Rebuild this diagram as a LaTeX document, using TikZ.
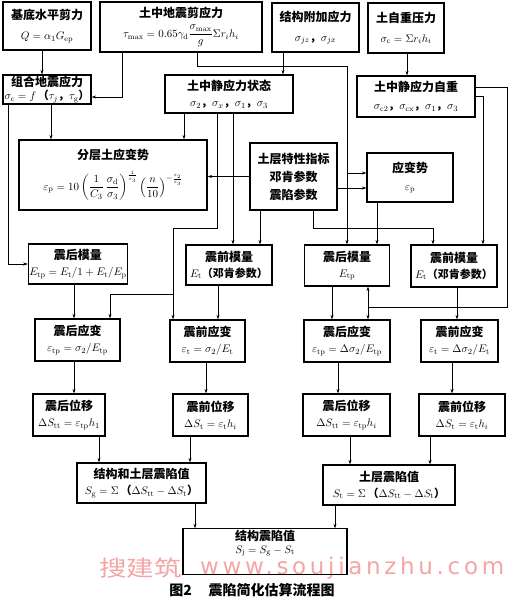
\documentclass[tikz,border=0pt]{standalone}
\usepackage{xcolor}
\usepackage{amsmath}
\usepackage{fontspec}
\usepackage{tikz}
\usetikzlibrary{arrows.meta}
\newfontfamily\cjk{Noto Sans CJK SC}
\newfontfamily\wmfont{DejaVu Sans}[LetterSpace=16]
\definecolor{shuiyin}{RGB}{244,165,165}
\newcommand\dou{\mbox{\cjk ，}}
\newcommand\gs[1]{{\fontsize{11}{12}\selectfont #1}}
\tikzset{
  kuang/.style={draw, line width=1.1pt, inner sep=1pt, align=center,
    font=\fontsize{12}{18}\selectfont\cjk\bfseries},
  lian/.style={-{Stealth[length=4.5pt,width=3pt]}, line width=0.6pt},
}
\begin{document}
\begin{tikzpicture}[x=1pt, y=-1pt]
\useasboundingbox (0,0) rectangle (511,600);

%% marca de agua %%%%%%%%%%%%%%%%%%%%%%%%%%%%%%%%%%%%%
\node[anchor=west, text=shuiyin, inner sep=0, xscale=1.25,
  font=\fontsize{22}{22}\selectfont\cjk] (sy1) at (99,568) {搜建筑};
\node[anchor=west, text=shuiyin, inner sep=0,
  font=\fontsize{23}{23}\selectfont\wmfont] (sy2) at (200,568) {www.soujianzhu.com};

%% fila 1 %%%%%%%%%%%%%%%%%%%%%%%%%%%%%%%%%%%%%%%%%%%%%
\node[kuang, minimum width=88, minimum height=48] (jdjl) at (47,26)
  {基底水平剪力\\[2pt] \gs{$Q=\alpha_1G_{\rm ep}$}};
\node[kuang, minimum width=162, minimum height=50] (dzjy) at (181,27)
  {土中地震剪应力\\[2pt] \gs{$\tau_{\max}=0.65\gamma_{\rm d}\dfrac{\sigma_{\max}}{g}\Sigma r_ih_i$}};
\node[kuang, minimum width=87, minimum height=49] (jgfj) at (315.5,27.5)
  {结构附加应力\\[2pt] \gs{$\sigma_{jz}$\dou$\sigma_{jx}$}};
\node[kuang, minimum width=76, minimum height=50] (zzyl) at (406,28)
  {土自重压力\\[2pt] \gs{$\sigma_{\rm c}=\Sigma r_ih_i$}};

%% fila 2 %%%%%%%%%%%%%%%%%%%%%%%%%%%%%%%%%%%%%%%%%%%%%
\node[kuang, minimum width=88, minimum height=29] (zhdz) at (47,89.5)
  {组合地震应力\\[-5pt] \gs{$\sigma_{\rm c}=f$\,{\cjk（}$\tau_j$\dou$\tau_{\rm g}${\cjk）}}};
\node[kuang, minimum width=128, minimum height=38] (jyzt) at (229,94)
  {土中静应力状态\\[-2pt] \gs{$\sigma_2$\dou$\sigma_x$\dou$\sigma_1$\dou$\sigma_3$}};
\node[kuang, minimum width=118, minimum height=41] (jyzz) at (416,96.5)
  {土中静应力自重\\ \gs{$\sigma_{\rm c2}$\dou$\sigma_{\rm cx}$\dou$\sigma_1$\dou$\sigma_3$}};

%% fila 3 %%%%%%%%%%%%%%%%%%%%%%%%%%%%%%%%%%%%%%%%%%%%%
\node[kuang, minimum width=188, minimum height=70] (fcyb) at (113,175)
  {分层土应变势\\[9pt] \gs{$\varepsilon_{\rm p}=10\left(\dfrac{1}{C_3}\,\dfrac{\sigma_{\rm d}}{\sigma_3}\right)^{\frac{1}{s_3}}\left(\dfrac{n}{10}\right)^{-\frac{s_2}{s_3}}$}};
\node[kuang, minimum width=87, minimum height=67] (tctx) at (293.5,176.5)
  {土层特性指标\\ 邓肯参数\\ 震陷参数};
\node[kuang, minimum width=86, minimum height=49] (ybs) at (410,177.5)
  {应变势\\ \gs{$\varepsilon_{\rm p}$}};

%% fila 4 : modulos %%%%%%%%%%%%%%%%%%%%%%%%%%%%%%%%%%%
\node[kuang, minimum width=86, minimum height=40] (zhml) at (78,264)
  {震后模量\\[-2pt] \gs{$E_{\rm tp}=E_{\rm t}/1+E_{\rm t}/E_{\rm p}$}};
\node[kuang, minimum width=86, minimum height=40] (zqml) at (229,265)
  {震前模量\\[-2pt] {\fontsize{11}{12}\selectfont$E_{\rm t}$（邓肯参数）}};
\node[kuang, minimum width=85, minimum height=41] (zhmlb) at (347,265.5)
  {震后模量\\[-2pt] \gs{$E_{\rm tp}$}};
\node[kuang, minimum width=86, minimum height=42] (zqmlb) at (454,266)
  {震前模量\\[-2pt] {\fontsize{11}{12}\selectfont$E_{\rm t}$（邓肯参数）}};

%% fila 5 : deformaciones %%%%%%%%%%%%%%%%%%%%%%%%%%%%%
\node[kuang, minimum width=85, minimum height=42] (zhyb) at (77.5,340)
  {震后应变\\[-2pt] \gs{$\varepsilon_{\rm tp}=\sigma_2/E_{\rm tp}$}};
\node[kuang, minimum width=75, minimum height=42] (zqyb) at (207.5,341)
  {震前应变\\[-2pt] \gs{$\varepsilon_{\rm t}=\sigma_2/E_{\rm t}$}};
\node[kuang, minimum width=86, minimum height=42] (zhybb) at (347,341)
  {震后应变\\[-2pt] \gs{$\varepsilon_{\rm tp}=\Delta\sigma_2/E_{\rm tp}$}};
\node[kuang, minimum width=77, minimum height=42] (zqybb) at (459.5,341)
  {震前应变\\[-2pt] \gs{$\varepsilon_{\rm t}=\Delta\sigma_2/E_{\rm t}$}};

%% fila 6 : desplazamientos %%%%%%%%%%%%%%%%%%%%%%%%%%%
\node[kuang, minimum width=72, minimum height=42] (zhwy) at (69,415)
  {震后位移\\[-2pt] \gs{$\Delta S_{\rm tt}=\varepsilon_{\rm tp}h_1$}};
\node[kuang, minimum width=75, minimum height=42] (zqwy) at (210.5,415)
  {震前位移\\[-2pt] \gs{$\Delta S_{\rm t}=\varepsilon_{\rm t}h_i$}};
\node[kuang, minimum width=87, minimum height=42] (zhwyb) at (346.5,415)
  {震后位移\\[-2pt] \gs{$\Delta S_{\rm tt}=\varepsilon_{\rm tp}h_i$}};
\node[kuang, minimum width=86, minimum height=42] (zqwyb) at (462,415)
  {震前位移\\[-2pt] \gs{$\Delta S_{\rm t}=\varepsilon_{\rm t}h_i$}};

%% fila 7 y 8 %%%%%%%%%%%%%%%%%%%%%%%%%%%%%%%%%%%%%%%%%
\node[kuang, minimum width=129, minimum height=40] (jgtc) at (141.5,483)
  {结构和土层震陷值\\[-2pt] \gs{$S_{\rm g}=\Sigma$\,{\cjk（}$\Delta S_{\rm tt}-\Delta S_{\rm t}${\cjk）}}};
\node[kuang, minimum width=132, minimum height=40] (tczx) at (389,485)
  {土层震陷值\\[-2pt] \gs{$S_{\rm t}=\Sigma$\,{\cjk（}$\Delta S_{\rm tt}-\Delta S_{\rm t}${\cjk）}}};
\node[kuang, minimum width=164, minimum height=41] (jgzx) at (265,551.5)
  {结构震陷值\\[-5pt] \gs{$S_{\rm j}=S_{\rm g}-S_{\rm t}$}\\[2pt]};

%% pie de figura %%
\node[font=\fontsize{14}{14}\selectfont\cjk\bfseries, inner sep=0] (titi) at (252,590)
  {图2\hspace{1.2em}震陷简化估算流程图};

%% flechas %%%%%%%%%%%%%%%%%%%%%%%%%%%%%%%%%%%%%%%%%%%%
\draw[lian] ([xshift=-5]jdjl.south) -- ([xshift=-5]jdjl.south |- zhdz.north);
\draw[lian] ([xshift=-59]dzjy.south) |- ([yshift=-7.5]zhdz.east);
\draw[lian] ([xshift=16]dzjy.south) -- ++(0,14) -| (zhmlb.north);
\draw[lian] ([yshift=4.5]ybs.west -| zhmlb.north) -- ([yshift=4.5]ybs.west);
\draw[lian] ([xshift=-32.5]jgfj.south) -- ([xshift=-32.5]jgfj.south |- jyzt.north);
\draw[lian] ([xshift=1]zzyl.south) -- ([xshift=1]zzyl.south |- jyzz.north);

\draw[lian] ([xshift=-39]zhdz.south) |- (zhml.west);
\draw[lian] ([xshift=4]zhdz.south) -- ([xshift=4]zhdz.south |- fcyb.north);
\draw[lian] ([xshift=-45]jyzt.south) -- ([xshift=-45]jyzt.south |- fcyb.north);
\draw[lian] ([xshift=-12]jyzt.south) -- ++(0,115) -| ([xshift=-34.5]zqyb.north);
\draw[lian] ([xshift=-34.5,yshift=25]zqyb.north) -| ([xshift=32.5]zhyb.north);
\draw[lian] ([xshift=4]jyzt.south) -- ([xshift=4]jyzt.south |- zqml.north);

\draw[lian] (jyzz.east) -| ([xshift=29]zqmlb.north);
\draw[lian] ([yshift=9.5]jyzz.east) -- ++(32,0) -- ++(0,220) -| ([xshift=21]zhmlb.south);
\draw[lian] ([xshift=21,yshift=-21]zhmlb.south) -- ([xshift=21]zhybb.north);

\draw[lian] (tctx.west) -- (tctx.west -| fcyb.east);
\draw[lian] ([yshift=-11.5]tctx.east) -- ([yshift=-11.5]tctx.east -| ybs.west);
\draw[lian] ([xshift=-33.5]tctx.south) -- ([xshift=-33.5]tctx.south |- zqml.north);
\draw[lian] ([xshift=19.5]tctx.south) -- ++(0,18) -| ([xshift=-21]zqmlb.north);
\draw[lian] ([xshift=-33]ybs.south) -- ([xshift=-33]ybs.south |- zhmlb.north);

\draw[lian] ([xshift=-4]zhml.south) -- ([xshift=-4]zhml.south |- zhyb.north);
\draw[lian] ([xshift=-11]zqml.south) -- ([xshift=-11]zqml.south |- zqyb.north);
\draw[lian] ([xshift=-15]zhmlb.south) -- ([xshift=-15]zhmlb.south |- zhybb.north);
\draw[lian] ([xshift=3]zqmlb.south) -- ([xshift=3]zqmlb.south |- zqybb.north);

\draw[lian] ([xshift=-3.5]zhyb.south) -- ([xshift=-3.5]zhyb.south |- zhwy.north);
\draw[lian] ([xshift=-1.5]zqyb.south) -- ([xshift=-1.5]zqyb.south |- zqwy.north);
\draw[lian] ([xshift=-9]zhybb.south) -- ([xshift=-9]zhybb.south |- zhwyb.north);
\draw[lian] ([xshift=-7.5]zqybb.south) -- ([xshift=-7.5]zqybb.south |- zqwyb.north);

\draw[lian] ([xshift=30]zhwy.south) -- ([xshift=30]zhwy.south |- jgtc.north);
\draw[lian] ([xshift=-20.5]zqwy.south) -- ([xshift=-20.5]zqwy.south |- jgtc.north);
\draw[lian] ([xshift=3.5]zhwyb.south) -- ([xshift=3.5]zhwyb.south |- tczx.north);
\draw[lian] ([xshift=-32]zqwyb.south) -- ([xshift=-32]zqwyb.south |- tczx.north);

\draw[lian] ([xshift=53.5]jgtc.south) -- ([xshift=53.5]jgtc.south |- jgzx.north);
\draw[lian] ([xshift=-54]tczx.south) -- ([xshift=-54]tczx.south |- jgzx.north);
\end{tikzpicture}
\end{document}
